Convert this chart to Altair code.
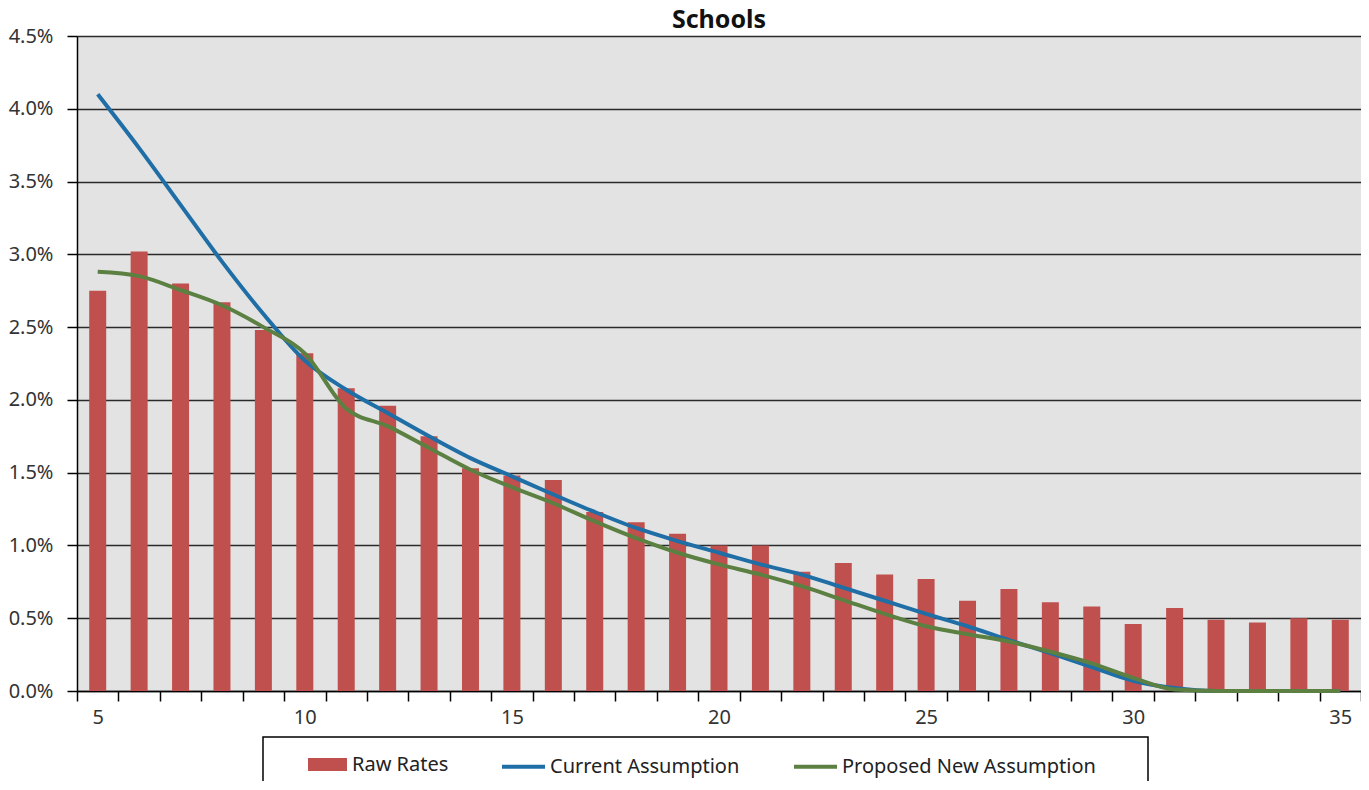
import altair as alt
import pandas as pd

# ---- data (percent values) ----
years = list(range(5, 36))
raw_rates = [2.75, 3.02, 2.80, 2.67, 2.48, 2.32, 2.08, 1.96, 1.75, 1.53,
             1.48, 1.45, 1.23, 1.16, 1.08, 1.00, 1.00, 0.82, 0.88, 0.80,
             0.77, 0.62, 0.70, 0.61, 0.58, 0.46, 0.57, 0.49, 0.47, 0.50, 0.49]
current = [4.10, 3.73, 3.34, 2.95, 2.59, 2.27, 2.07, 1.91, 1.75, 1.60,
           1.475, 1.35, 1.23, 1.12, 1.03, 0.95, 0.87, 0.80, 0.71, 0.62,
           0.53, 0.445, 0.35, 0.26, 0.165, 0.07, 0.02, 0.0, 0.0, 0.0, 0.0]
proposed = [2.88, 2.85, 2.755, 2.65, 2.50, 2.32, 1.94, 1.82, 1.67, 1.52,
            1.40, 1.29, 1.165, 1.05, 0.95, 0.87, 0.80, 0.72, 0.625, 0.53,
            0.445, 0.39, 0.34, 0.27, 0.19, 0.09, 0.01, 0.0, 0.0, 0.0, 0.0]
y_ticks = [0, 0.005, 0.01, 0.015, 0.02, 0.025, 0.03, 0.035, 0.04, 0.045]

bar_series = ["Raw Rates"]
line_series = ["Current Assumption", "Proposed New Assumption"]

bars_df = pd.DataFrame({"year": years, "value": [v / 100 for v in raw_rates],
                        "series": "Raw Rates"})
lines_df = pd.concat([
    pd.DataFrame({"year": years, "value": [v / 100 for v in current],
                  "series": line_series[0]}),
    pd.DataFrame({"year": years, "value": [v / 100 for v in proposed],
                  "series": line_series[1]}),
], ignore_index=True)

FONT = "Noto Sans"
RED = "#C0504D"
BLUE = "#1F6EA6"
GREEN = "#5B8042"

axis_common = dict(labelFont=FONT, labelFontSize=20, labelColor="#333",
                   domainColor="black", domainWidth=1.5,
                   tickColor="black", tickWidth=1.5, tickSize=10)

x_enc = alt.X(
    "year:O", title=None,
    scale=alt.Scale(paddingInner=0, paddingOuter=0),
    axis=alt.Axis(labelAngle=0, tickBand="extent", labelPadding=6, grid=False,
                  labelExpr="datum.value % 5 == 0 ? datum.label : ''",
                  **axis_common),
)
y_enc = alt.Y(
    "value:Q", title=None,
    scale=alt.Scale(domain=[0, 0.045], nice=False),
    axis=alt.Axis(format=".1%", values=y_ticks, labelPadding=14,
                  grid=True, gridColor="#2a2a2a", gridWidth=1.3,
                  **axis_common),
)

legend_common = dict(title=None, orient="none", direction="horizontal",
                     labelFont=FONT, labelFontSize=20, labelColor="#222",
                     labelLimit=400, padding=0)

bars = alt.Chart(bars_df).mark_bar(size=17).encode(
    x=x_enc, y=y_enc,
    fill=alt.Fill("series:N",
                  scale=alt.Scale(domain=bar_series, range=[RED]),
                  legend=alt.Legend(
                      legendX=231, legendY=709,
                      symbolType="M-1,-0.33L1,-0.33L1,0.33L-1,0.33Z",
                      symbolSize=1521, symbolStrokeWidth=0, labelOffset=5,
                      **legend_common)),
)

lines = alt.Chart(lines_df).mark_line(strokeWidth=4, interpolate="monotone").encode(
    x=x_enc, y=y_enc,
    stroke=alt.Stroke("series:N",
                      scale=alt.Scale(domain=line_series, range=[BLUE, GREEN]),
                      legend=alt.Legend(
                          legendX=423, legendY=707,
                          symbolType="stroke", symbolSize=1849,
                          symbolStrokeWidth=4, columnPadding=46,
                          labelOffset=3, **legend_common)),
)

box = alt.Chart(pd.DataFrame({"k": [0]})).mark_rect(
    fill="white", stroke="black", strokeWidth=1.5
).encode(x=alt.value(186), x2=alt.value(1071), y=alt.value(701), y2=alt.value(800))

chart = alt.layer(bars, lines, box).properties(
    width=1284, height=655,
    background="white",
    title=alt.TitleParams("Schools", font=FONT, fontSize=25, fontWeight="bold",
                          color="#111", anchor="middle", offset=-7),
    autosize=alt.AutoSizeParams(type="none"),
    padding={"left": 69, "top": 28, "right": 0, "bottom": 90},
).configure_view(
    fill="#E3E3E3", stroke=None
)

chart.save("out.html", embed_options={"renderer": "svg", "actions": False})
